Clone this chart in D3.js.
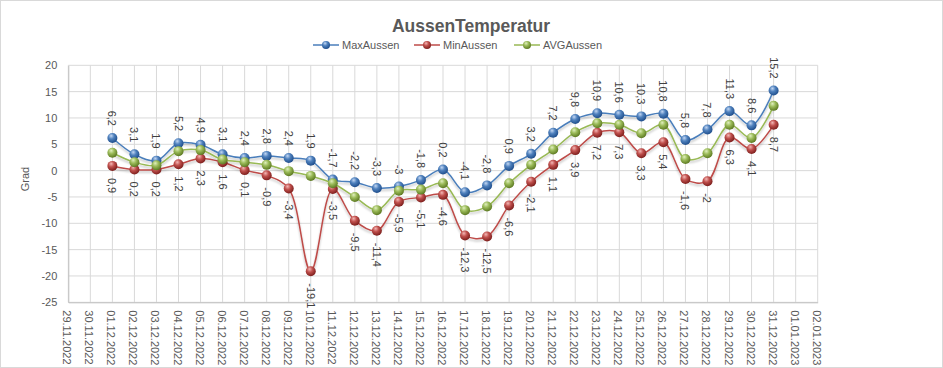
<!DOCTYPE html>
<html><head><meta charset="utf-8">
<script src="https://cdn.jsdelivr.net/npm/d3@7"></script>
<style>html,body{margin:0;padding:0;background:#fff;}svg{display:block;font-family:"Liberation Sans",Arial,sans-serif;}</style>
</head><body><svg id="c" width="943" height="368"></svg>
<script>
const categories = ["29.11.2022","30.11.2022","01.12.2022","02.12.2022","03.12.2022","04.12.2022","05.12.2022","06.12.2022","07.12.2022","08.12.2022","09.12.2022","10.12.2022","11.12.2022","12.12.2022","13.12.2022","14.12.2022","15.12.2022","16.12.2022","17.12.2022","18.12.2022","19.12.2022","20.12.2022","21.12.2022","22.12.2022","23.12.2022","24.12.2022","25.12.2022","26.12.2022","27.12.2022","28.12.2022","29.12.2022","30.12.2022","31.12.2022","01.01.2023","02.01.2023"];
const dates = ["01.12.2022","02.12.2022","03.12.2022","04.12.2022","05.12.2022","06.12.2022","07.12.2022","08.12.2022","09.12.2022","10.12.2022","11.12.2022","12.12.2022","13.12.2022","14.12.2022","15.12.2022","16.12.2022","17.12.2022","18.12.2022","19.12.2022","20.12.2022","21.12.2022","22.12.2022","23.12.2022","24.12.2022","25.12.2022","26.12.2022","27.12.2022","28.12.2022","29.12.2022","30.12.2022","31.12.2022"];
const maxAussen = [6.2,3.1,1.9,5.2,4.9,3.1,2.4,2.8,2.4,1.9,-1.7,-2.2,-3.3,-3,-1.8,0.2,-4.1,-2.8,0.9,3.2,7.2,9.8,10.9,10.6,10.3,10.8,5.8,7.8,11.3,8.6,15.2];
const minAussen = [0.9,0.2,0.2,1.2,2.3,1.6,0.1,-0.9,-3.4,-19.1,-3.5,-9.5,-11.4,-5.9,-5.1,-4.6,-12.3,-12.5,-6.6,-2.1,1.1,3.9,7.2,7.3,3.3,5.4,-1.6,-2,6.3,4.1,8.7];
const avgAussen = [3.4,1.6,1.0,3.7,3.9,2.1,1.6,1.1,-0.1,-1.0,-2.4,-5.0,-7.5,-3.8,-3.6,-2.4,-7.5,-6.8,-2.4,1.1,4.0,7.3,9.0,8.7,7.1,8.7,2.2,3.3,8.7,6.2,12.3];
const yTicks = [-25,-20,-15,-10,-5,0,5,10,15,20];
const seriesNames = ["MaxAussen","MinAussen","AVGAussen"];

const svg = d3.select("#c");
const W = 943, H = 368;
const L = 68.3, R = 817.7, T = 65.3, B = 302.3;
const x = d3.scalePoint().domain(categories).range([L, R]);
const y = d3.scaleLinear().domain([-25, 20]).range([B, T]);

const colors = {
  MaxAussen: {line:"#4a7ebb", base:"#4f81bd", hi:"#c4d8f4", dark:"#1f4e8c"},
  MinAussen: {line:"#be4b48", base:"#c0504d", hi:"#f4b8b6", dark:"#7e1f1d"},
  AVGAussen: {line:"#98b954", base:"#9bbb59", hi:"#e1f0bf", dark:"#5d7a22"}
};

const defs = svg.append("defs");
Object.entries(colors).forEach(([k,c]) => {
  const g = defs.append("radialGradient").attr("id","g"+k).attr("cx","40%").attr("cy","35%").attr("r","65%").attr("fx","38%").attr("fy","28%");
  g.append("stop").attr("offset","0%").attr("stop-color",c.hi);
  g.append("stop").attr("offset","45%").attr("stop-color",c.base);
  g.append("stop").attr("offset","100%").attr("stop-color",c.dark);
});
const f = defs.append("filter").attr("id","sh").attr("x","-10%").attr("y","-10%").attr("width","120%").attr("height","130%");
f.append("feDropShadow").attr("dx",0).attr("dy",2).attr("stdDeviation",1.2).attr("flood-color","#000").attr("flood-opacity",0.25);

svg.append("rect").attr("x",0.5).attr("y",0.5).attr("width",W-1).attr("height",H-1).attr("fill","#fff").attr("stroke","#d9d9d9");

// gridlines
const grid = svg.append("g");
grid.selectAll("line.h").data(yTicks).join("line")
  .attr("x1",L).attr("x2",R).attr("y1",d=>y(d)).attr("y2",d=>y(d))
  .attr("stroke","#d9d9d9").attr("stroke-width",1);
grid.selectAll("line.v").data(categories).join("line")
  .attr("x1",d=>x(d)).attr("x2",d=>x(d)).attr("y1",T).attr("y2",B)
  .attr("stroke","#d9d9d9").attr("stroke-width",1);

// axes
const yAxis = svg.append("g").attr("transform",`translate(${L},0)`)
  .call(d3.axisLeft(y).tickValues(yTicks).tickSize(0).tickPadding(11).tickFormat(d=>String(d)));
yAxis.select(".domain").attr("stroke","#bfbfbf");
yAxis.selectAll("text").attr("fill","#595959").attr("font-size","11px").attr("font-family","Liberation Sans, Arial, sans-serif");

const xAxis = svg.append("g").attr("transform",`translate(0,${B})`)
  .call(d3.axisBottom(x).tickSize(0).tickFormat(d=>d));
xAxis.select(".domain").attr("stroke","#bfbfbf");
xAxis.selectAll("text")
  .attr("fill","#595959").attr("font-size","11px").attr("font-family","Liberation Sans, Arial, sans-serif")
  .attr("text-anchor","start").attr("dy",null).attr("y",null)
  .attr("dominant-baseline","central")
  .attr("transform","translate(-1.5,8) rotate(90)");

svg.append("text").attr("transform","translate(25,179) rotate(-90)")
  .attr("text-anchor","middle").attr("dominant-baseline","central")
  .attr("fill","#595959").attr("font-size","11px").text("Grad");

// title
svg.append("text").attr("x",471).attr("y",32).attr("text-anchor","middle")
  .attr("font-size","17.5px").attr("font-weight","bold").attr("fill","#595959").text("AussenTemperatur");

// legend
const legendX = [313, 414, 514];
seriesNames.forEach((n,i) => {
  const g = svg.append("g").attr("transform",`translate(${legendX[i]},45)`);
  g.append("line").attr("x1",0).attr("x2",26).attr("y1",0).attr("y2",0).attr("stroke",colors[n].line).attr("stroke-width",1.5);
  g.append("circle").attr("cx",13).attr("cy",0).attr("r",4).attr("fill",`url(#g${n})`);
  g.append("text").attr("x",29).attr("y",0).attr("dominant-baseline","central").attr("font-size","11px").attr("fill","#595959").text(n);
});

// series
const series = [
  {name:"MaxAussen", values:maxAussen, label:"above"},
  {name:"MinAussen", values:minAussen, label:"below"},
  {name:"AVGAussen", values:avgAussen, label:null}
];
const line = d3.line().x(d=>x(d.date)).y(d=>y(d.v)).curve(d3.curveCatmullRom.alpha(0.5));
series.forEach(s => {
  const pts = dates.map((dt,i)=>({date:dt, v:s.values[i]}));
  const g = svg.append("g");
  g.append("path").datum(pts).attr("d",line).attr("fill","none")
    .attr("stroke",colors[s.name].line).attr("stroke-width",1.5).attr("filter","url(#sh)");
  g.selectAll("circle").data(pts).join("circle")
    .attr("cx",d=>x(d.date)).attr("cy",d=>y(d.v)).attr("r",5)
    .attr("fill",`url(#g${s.name})`);
  s.pts = pts;
});
const fmt = v => String(v).replace(".", ",");
series.forEach(s => {
  if (!s.label) return;
  svg.append("g").selectAll("text").data(s.pts).join("text")
    .attr("transform", d => s.label==="above"
      ? `translate(${x(d.date)},${y(d.v)-12}) rotate(90)`
      : `translate(${x(d.date)},${y(d.v)+12}) rotate(90)`)
    .attr("text-anchor", s.label==="above" ? "end" : "start")
    .attr("dominant-baseline","central")
    .attr("font-size","11px").attr("fill","#404040")
    .text(d=>fmt(d.v));
});
</script></body></html>
